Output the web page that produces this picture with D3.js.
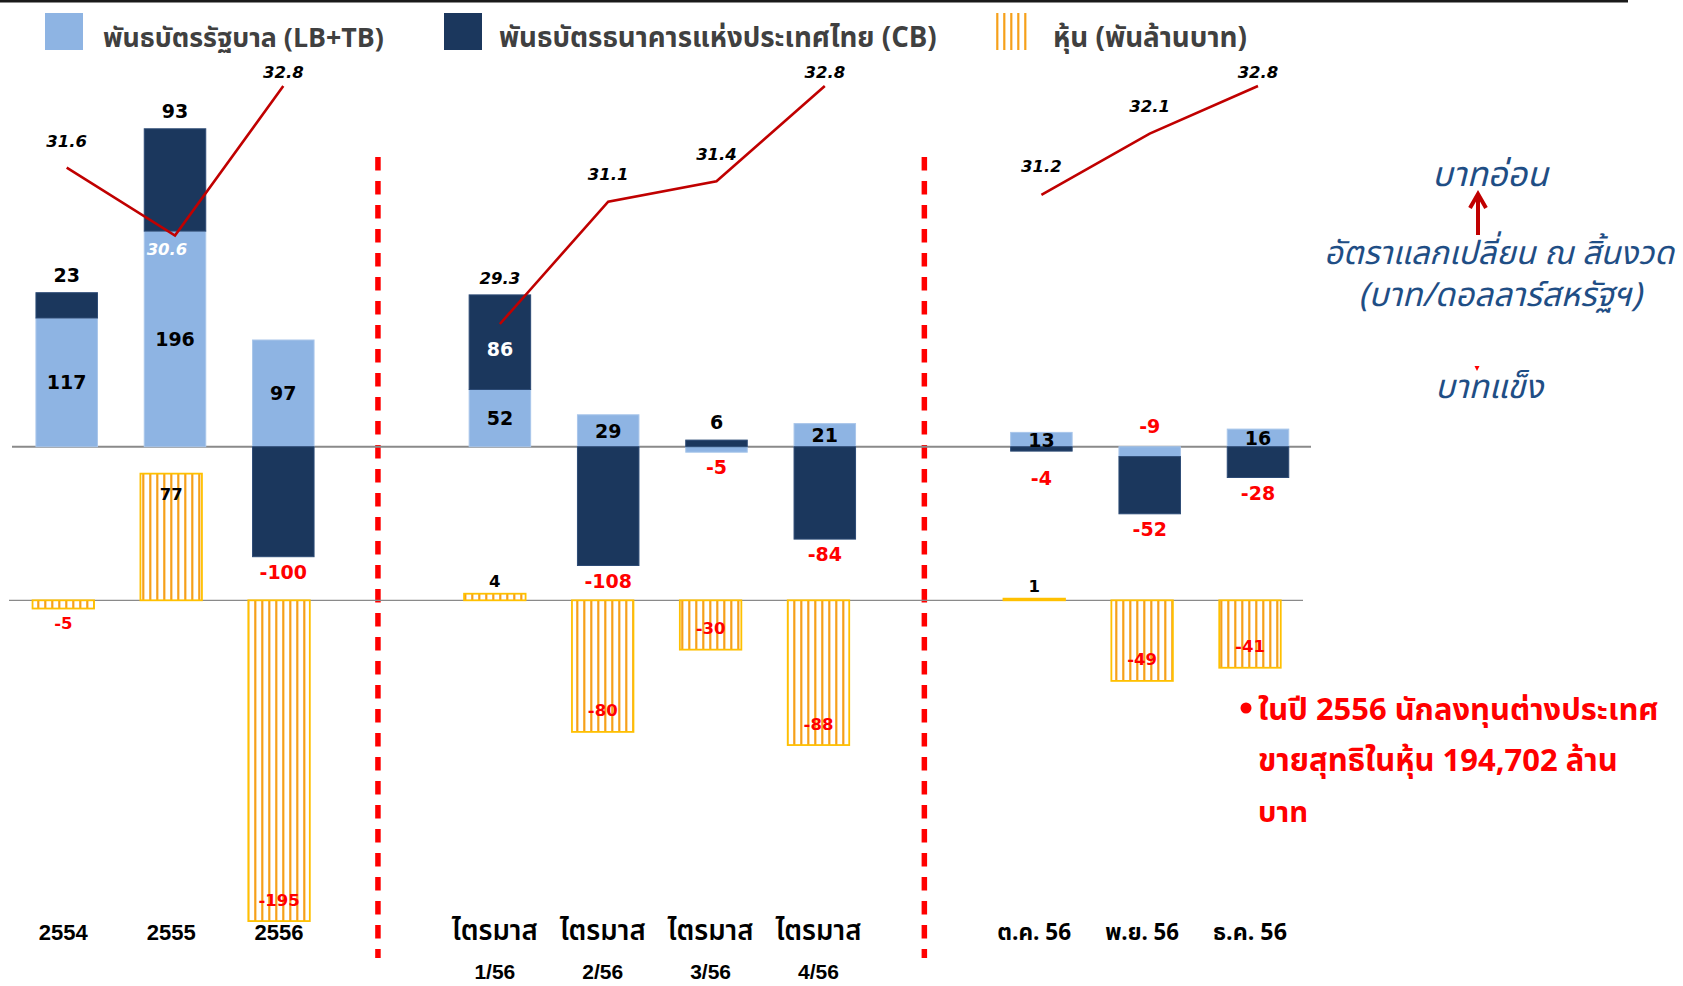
<!DOCTYPE html>
<html><head><meta charset="utf-8">
<script src="https://cdn.jsdelivr.net/npm/d3@7/dist/d3.min.js"></script>
<style>
body{margin:0;background:#fff;}
svg{display:block;}
</style></head><body>
<svg id="chart" width="1683" height="986"></svg>
<script>
// ---------------- data ----------------
const slots = ["2554","2555","2556","gapA","Q1","Q2","Q3","Q4","gapB","Oct","Nov","Dec"];
const periods = ["2554","2555","2556","Q1","Q2","Q3","Q4","Oct","Nov","Dec"];
const periodGroup = ["year","year","year","quarter","quarter","quarter","quarter","month","month","month"];
const labelsLine1 = ["2554","2555","2556","ไตรมาส","ไตรมาส","ไตรมาส","ไตรมาส","ต.ค. 56","พ.ย. 56","ธ.ค. 56"];
const labelsLine2 = ["","","","1/56","2/56","3/56","4/56","","",""];
const govBonds = [117,196,97,52,29,-5,21,13,-9,16];      // พันธบัตรรัฐบาล (LB+TB)
const cbBonds  = [23,93,-100,86,-108,6,-84,-4,-52,-28];  // พันธบัตรธนาคารแห่งประเทศไทย (CB)
const stocks   = [-5,77,-195,4,-80,-30,-88,1,-49,-41];   // หุ้น (พันล้านบาท)
const fxRate   = [31.6,30.6,32.8,29.3,31.1,31.4,32.8,31.2,32.1,32.8];
const legendLabels = ["พันธบัตรรัฐบาล (LB+TB)","พันธบัตรธนาคารแห่งประเทศไทย (CB)","หุ้น (พันล้านบาท)"];
const noteLines = ["ในปี 2556 นักลงทุนต่างประเทศ","ขายสุทธิในหุ้น 194,702 ล้าน","บาท"];
const fxTitleLines = ["อัตราแลกเปลี่ยน ณ สิ้นงวด","(บาท/ดอลลาร์สหรัฐฯ)"];

// ---------------- style / layout config ----------------
const govLabelPos = ["in","in","in","in","in","out","in","in","aboveZero","in"];
const cbLabelPos  = ["out","out","out","in","out","out","out","outFar","out","out"];
const fxLabelDy   = [-26,14,-14,-46,-27,-27,-14,-28,-27,-14];
const fxLabelDx   = [0,-8,0,0,0,0,0,0,0,0];
const C = {light:"#8EB4E3", lightStroke:"#A9C6EA", dark:"#1B375D", darkStroke:"#2C4A75",
           stripe:"#F6A01A", stockStroke:"#FFC000", red:"#FF0000", line:"#C00000",
           blueText:"#1F4E85", legendText:"#404040"};
const THAI = "'Noto Sans Thai','Noto Sans Thai UI','Noto Looped Thai','Tahoma','DejaVu Sans','Noto Sans',sans-serif";
const NUM = "'DejaVu Sans',sans-serif";
const ARIAL = "'Liberation Sans',Arial,sans-serif";

const svg = d3.select("#chart");

// ---------------- scales ----------------
const bondX  = d3.scalePoint().domain(slots).range([66.7, 1258]);
const stockX = d3.scalePoint().domain(slots).range([63.3, 1250]);
const bondY  = d3.scaleLinear().domain([0, 100]).range([446.7, 336.7]);
const stockY = d3.scaleLinear().domain([0, -100]).range([600.3, 764.8]);
const fxY    = d3.scaleLinear().domain([29.3, 32.8]).range([324, 86]);
const barW = 61.5;

// pattern
const defs = svg.append("defs");
const pat = defs.append("pattern").attr("id","stripes").attr("patternUnits","userSpaceOnUse")
  .attr("width",7).attr("height",10);
pat.append("rect").attr("width",7).attr("height",10).attr("fill","#fff");
pat.append("rect").attr("x",2.2).attr("width",2.2).attr("height",10).attr("fill",C.stripe);

function fit(sel, w){
  sel.each(function(){
    const n=this, cur=n.getComputedTextLength();
    const fs=parseFloat(d3.select(n).attr("font-size"));
    if(cur>0) d3.select(n).attr("font-size", fs*w/cur);
  });
}

// top rule
svg.append("rect").attr("x",0).attr("y",0).attr("width",1628).attr("height",2.5).attr("fill","#1a1a1a");

// ---------------- legend ----------------
const lg = svg.append("g");
lg.append("rect").attr("x",45).attr("y",13).attr("width",38).attr("height",37).attr("fill",C.light);
lg.append("rect").attr("x",444).attr("y",13).attr("width",38).attr("height",37).attr("fill",C.dark);
lg.append("rect").attr("x",996).attr("y",13).attr("width",34).attr("height",37).attr("fill","url(#stripes)");
const legX=[103,499,1053], legW=[281,438,194];
legendLabels.forEach((t,i)=>{
  const tx=lg.append("text").attr("x",legX[i]).attr("y",47).attr("font-family",THAI)
    .attr("font-weight","bold").attr("font-size",22).attr("fill",C.legendText).text(t);
  fit(tx, legW[i]);
});

// ---------------- separators ----------------
[stockX("gapA")-9, stockX("gapB")-2].forEach(x=>{
  svg.append("line").attr("x1",x).attr("x2",x).attr("y1",157).attr("y2",958)
    .attr("stroke",C.red).attr("stroke-width",5.5).attr("stroke-dasharray","13.5,10.5");
});

// ---------------- zero lines ----------------
svg.append("line").attr("x1",12).attr("x2",1311).attr("y1",bondY(0)).attr("y2",bondY(0))
  .attr("stroke","#8a8a8a").attr("stroke-width",2);
svg.append("line").attr("x1",9).attr("x2",1303).attr("y1",stockY(0)).attr("y2",stockY(0))
  .attr("stroke","#8a8a8a").attr("stroke-width",1.2);

// ---------------- bond stacked bars ----------------
const rows = periods.map((p,i)=>({period:p, gov:govBonds[i], cb:cbBonds[i]}));
const series = d3.stack().keys(["gov","cb"]).offset(d3.stackOffsetDiverging)(rows);
const bondG = svg.append("g");
series.forEach(s=>{
  bondG.selectAll(null).data(s).join("rect")
    .attr("x",d=>bondX(d.data.period)-barW/2)
    .attr("y",d=>bondY(Math.max(d[0],d[1])))
    .attr("width",barW)
    .attr("height",d=>Math.abs(bondY(d[0])-bondY(d[1])))
    .attr("fill", s.key==="gov"?C.light:C.dark)
    .attr("stroke", s.key==="gov"?C.lightStroke:C.darkStroke).attr("stroke-width",1);
});

// ---------------- stock bars ----------------
const stockG = svg.append("g");
stockG.selectAll(null).data(periods).join("rect")
  .attr("x",p=>stockX(p)-barW/2)
  .attr("y",(p,i)=>stockY(Math.max(0,stocks[i])))
  .attr("width",barW)
  .attr("height",(p,i)=>Math.abs(stockY(stocks[i])-stockY(0)))
  .attr("fill","url(#stripes)").attr("stroke",C.stockStroke).attr("stroke-width",1.8);

// ---------------- fx line ----------------
const lineGen = d3.line().x(d=>bondX(d.p)).y(d=>fxY(d.v));
const fxPts = periods.map((p,i)=>({p, v:fxRate[i], g:periodGroup[i], i}));
d3.group(fxPts, d=>d.g).forEach(pts=>{
  svg.append("path").attr("d",lineGen(pts)).attr("fill","none")
    .attr("stroke",C.line).attr("stroke-width",2.6);
});

// ---------------- bond labels ----------------
const lbl = svg.append("g").attr("font-family",NUM).attr("font-weight","bold")
  .attr("text-anchor","middle").attr("dominant-baseline","central");
series.forEach(s=>{
  const pos = s.key==="gov"?govLabelPos:cbLabelPos;
  s.forEach((d,i)=>{
    const v = d.data[s.key];
    const x = bondX(d.data.period);
    let y, fill = v<0?C.red:"#000";
    const top=bondY(Math.max(d[0],d[1])), bot=bondY(Math.min(d[0],d[1]));
    if(pos[i]==="in"){ y=(top+bot)/2; if(s.key==="cb"){ fill="#fff"; y+=7; } }
    else if(pos[i]==="aboveZero"){ y=bondY(0)-21; }
    else if(pos[i]==="outFar"){ y = v>=0 ? top-28 : bot+27; }
    else { y = v>=0 ? top-18 : bot+15; }
    lbl.append("text").attr("x",x).attr("y",y).attr("font-size",19).attr("fill",fill).text(v);
  });
});

// ---------------- stock labels ----------------
periods.forEach((p,i)=>{
  const v=stocks[i], x=stockX(p), end=stockY(v);
  const big = Math.abs(end-stockY(0))>40;
  let y;
  if(big) y = v<0 ? end-21 : end+21;
  else y = v<0 ? end+15 : end-12;
  lbl.append("text").attr("x",x).attr("y",y).attr("font-size",16.5)
    .attr("fill", v<0?C.red:"#000").text(v);
});

// ---------------- fx labels ----------------
fxPts.forEach(d=>{
  svg.append("text").attr("x",bondX(d.p)+fxLabelDx[d.i]).attr("y",fxY(d.v)+fxLabelDy[d.i])
    .attr("font-family",NUM).attr("font-weight","bold").attr("font-style","italic")
    .attr("font-size",16.5).attr("text-anchor","middle").attr("dominant-baseline","central")
    .attr("fill", d.i===1?"#fff":"#000").text(d3.format(".1f")(d.v));
});

// ---------------- category labels ----------------
const cat = svg.append("g").attr("text-anchor","middle").attr("font-weight","bold").attr("fill","#000");
periods.forEach((p,i)=>{
  const isThai = /[\u0E00-\u0E7F]/.test(labelsLine1[i]);
  const t = cat.append("text").attr("x",stockX(p)).attr("y",940)
    .attr("font-family", isThai?THAI:ARIAL).attr("font-size",22).text(labelsLine1[i]);
  if(isThai){ t.attr("font-weight", periodGroup[i]==="quarter"?600:"bold"); fit(t, periodGroup[i]==="quarter"?86:74); }
  if(labelsLine2[i]) cat.append("text").attr("x",stockX(p)).attr("y",979)
    .attr("font-family",ARIAL).attr("font-size",21).text(labelsLine2[i]);
});

// ---------------- right annotations ----------------
const ann = svg.append("g").attr("text-anchor","middle").attr("font-family",THAI)
  .attr("font-style","italic").attr("fill",C.blueText);
const a1 = ann.append("text").attr("x",1490).attr("y",186).attr("font-size",30).text("บาทอ่อน"); fit(a1,116);
const a2 = ann.append("text").attr("x",1499).attr("y",264).attr("font-size",30).text(fxTitleLines[0]); fit(a2,350);
const a3 = ann.append("text").attr("x",1500).attr("y",306).attr("font-size",30).text(fxTitleLines[1]); fit(a3,283);
const a4 = ann.append("text").attr("x",1489).attr("y",398).attr("font-size",30).text("บาทแข็ง"); fit(a4,108);
// arrow
svg.append("line").attr("x1",1478).attr("x2",1478).attr("y1",235).attr("y2",196)
  .attr("stroke",C.line).attr("stroke-width",4);
svg.append("path").attr("d","M1470,208 L1478,194 L1486,208").attr("fill","none")
  .attr("stroke",C.line).attr("stroke-width",4).attr("stroke-linejoin","miter");
svg.append("path").attr("d","M1474.5,366 L1479.5,366 L1477,371 Z").attr("fill",C.red);

// ---------------- bullet note ----------------
const note = svg.append("g").attr("font-family",THAI).attr("font-weight","bold").attr("fill",C.red);
note.append("circle").attr("cx",1246).attr("cy",708).attr("r",5.5).attr("fill",C.red);
const noteY=[720,771,822], noteW=[401,360,50];
noteLines.forEach((t,i)=>{
  const tx = note.append("text").attr("x",1258).attr("y",noteY[i]).attr("font-size",28).text(t);
  fit(tx, noteW[i]);
});
</script>
</body></html>
